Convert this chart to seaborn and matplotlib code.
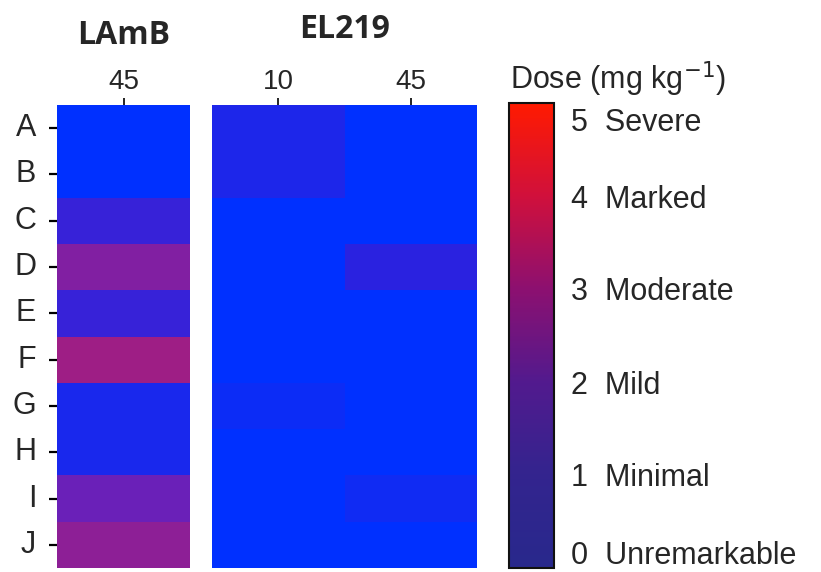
import numpy as np
import pandas as pd
import matplotlib
matplotlib.use("Agg")
import matplotlib.pyplot as plt
from matplotlib.colors import LinearSegmentedColormap, Normalize
from matplotlib.cm import ScalarMappable
import seaborn as sns

# Histopathology severity scores per tissue (rows A-J)
rows = ["A", "B", "C", "D", "E", "F", "G", "H", "I", "J"]
lamb_doses = ["45"]
el219_doses = ["10", "45"]
lamb_45 = [0.0, 0.0, 1.2, 2.4, 1.2, 2.9, 0.6, 0.6, 2.0, 2.6]
el219_10 = [0.7, 0.7, 0.0, 0.0, 0.0, 0.0, 0.3, 0.0, 0.0, 0.0]
el219_45 = [0.0, 0.0, 0.0, 1.0, 0.0, 0.0, 0.0, 0.0, 0.4, 0.0]
severity_ticks = [0, 1, 2, 3, 4, 5]
severity_names = ["Unremarkable", "Minimal", "Mild", "Moderate", "Marked", "Severe"]

sns.set_theme(style="white")
plt.rcParams["font.family"] = ["Liberation Sans", "DejaVu Sans"]

W, H = 821, 572
fig = plt.figure(figsize=(W / 100, H / 100), dpi=100)

def px(l, t, r, b):
    return [l / W, 1 - b / H, (r - l) / W, (b - t) / H]

cell_cmap = LinearSegmentedColormap.from_list(
    "cells",
    [(0.0, "#0030ff"), (0.2, "#2a22e0"), (0.4, "#6a20b8"),
     (0.6, "#a41e80"), (1.0, "#ff0000")])
bar_cmap = LinearSegmentedColormap.from_list(
    "bar",
    [(0.0, "#28288c"), (0.2, "#33248e"), (0.4, "#521a8e"),
     (0.6, "#8c1070"), (0.8, "#d0103c"), (1.0, "#ff1a00")])

df_lamb = pd.DataFrame({lamb_doses[0]: lamb_45}, index=rows)
df_el = pd.DataFrame({el219_doses[0]: el219_10, el219_doses[1]: el219_45}, index=rows)

ax1 = fig.add_axes(px(57, 105, 190, 568))
ax2 = fig.add_axes(px(212, 105, 477, 568))
cax = fig.add_axes(px(509, 103, 554, 568))

sns.heatmap(df_lamb, ax=ax1, cmap=cell_cmap, vmin=0, vmax=5, cbar=False)
sns.heatmap(df_el, ax=ax2, cmap=cell_cmap, vmin=0, vmax=5, cbar=False)

for ax in (ax1, ax2):
    ax.xaxis.tick_top()
    ax.tick_params(axis="x", top=True, bottom=False, length=5, width=1.2,
                   color="black", labelsize=20, pad=2, labelrotation=0)
    ax.set_xlabel("")
    ax.set_ylabel("")

ax1.tick_params(axis="y", left=True, length=6, width=1.6, color="black",
                labelsize=22, pad=9, labelrotation=0)
ax2.set_yticks([])

ax1.set_title("LAmB", fontsize=23, fontweight="bold", pad=44,
              family=["Open Sans", "DejaVu Sans"])
ax2.set_title("EL219", fontsize=23, fontweight="bold", pad=48,
              family=["Open Sans", "DejaVu Sans"])

sm = ScalarMappable(norm=Normalize(0, 5), cmap=bar_cmap)
cb = fig.colorbar(sm, cax=cax)
cb.outline.set_linewidth(1.5)
cb.outline.set_edgecolor("#111111")
# end labels sit just inside the bar; tick marks only at the inner levels
label_pos = [0.17, 1, 2, 3, 4, 4.82]
cb.set_ticks(label_pos)
cb.set_ticklabels([f"{v}  {n}" for v, n in zip(severity_ticks, severity_names)])
cax.tick_params(axis="y", which="major", length=0, labelsize=22, pad=12)
cax.set_yticks(severity_ticks[1:-1], minor=True)
cax.tick_params(axis="y", which="minor", direction="in", length=6, width=1.5,
                color="#111111", left=True, right=True)

fig.text(618 / W, 1 - 79 / H, "Dose (mg kg$^{-1}$)", ha="center", va="center",
         fontsize=22)

fig.savefig("out.png", dpi=100, facecolor="white")
